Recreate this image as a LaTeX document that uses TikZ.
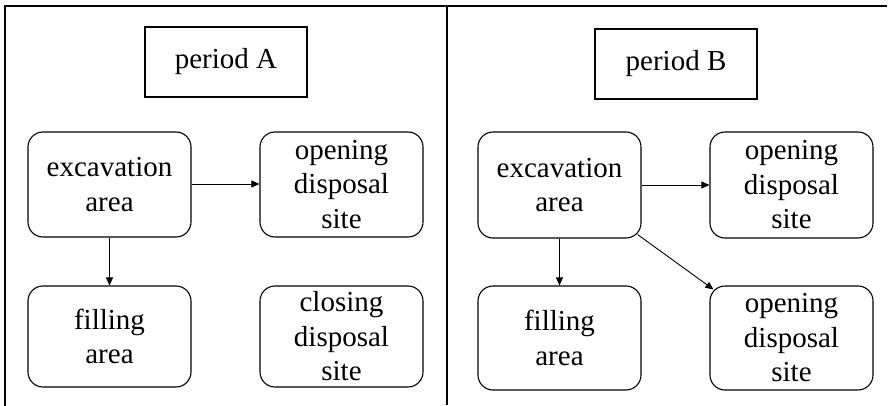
\documentclass[tikz,border=0pt]{standalone}
\usepackage{fontspec}
\setmainfont{Liberation Serif}
\usetikzlibrary{arrows.meta,calc}
\begin{document}
\begin{tikzpicture}[x=1pt,y=-1pt,
  box/.style={draw,line width=1.1pt,rounded corners=15pt,minimum width=163pt,minimum height=105pt,inner sep=0pt,align=center,font=\fontsize{29}{34.5}\selectfont},
  perbox/.style={draw,line width=1.1pt,minimum width=162pt,minimum height=70pt,inner sep=0pt,font=\fontsize{29}{34.5}\selectfont},
  conn/.style={line width=0.9pt,-{Triangle[length=8pt,width=7pt]}},
  frame/.style={line width=1.4pt}]
\useasboundingbox (0,0) rectangle (888,406);
% frame
\coordinate (fbl) at (5,406);
\coordinate (ftl) at (5,6);
\coordinate (ftr) at (887,6);
\coordinate (dtop) at (447,6);
\coordinate (dbot) at (447,405);
\draw[frame] (fbl) -- (ftl) -- (ftr);
\draw[frame] (dtop) -- (dbot);
% period A
\node[perbox] (pA) at (226,62) {period A};
\node[box] (exA) at (109.5,184.5) {excavation\\area};
\node[box] (opA) at (341.5,184.5) {opening\\disposal\\site};
\node[box,minimum height=101pt] (fiA) at (109.5,336.5) {filling\\area};
\node[box,minimum height=101pt] (clA) at (341.5,336.5) {closing\\disposal\\site};
\draw[conn] (exA.east |- 0,184) -- (opA.west |- 0,184);
\draw[conn] (exA.south) -- (fiA.north);
% period B
\node[perbox] (pB) at (676,64) {period B};
\node[box,minimum height=106pt] (exB) at (559.5,185) {excavation\\area};
\node[box,minimum height=106pt] (opB1) at (791.5,185) {opening\\disposal\\site};
\node[box,minimum height=104pt] (fiB) at (559.5,338) {filling\\area};
\node[box,minimum height=104pt] (opB2) at (791.5,338) {opening\\disposal\\site};
\draw[conn] (exB.east) -- (opB1.west);
\draw[conn] (exB.south) -- (fiB.north);
\draw[conn] ($(exB.south east)+(-4,-4)$) -- ($(opB2.north west)+(4,4)$);
\end{tikzpicture}
\end{document}
